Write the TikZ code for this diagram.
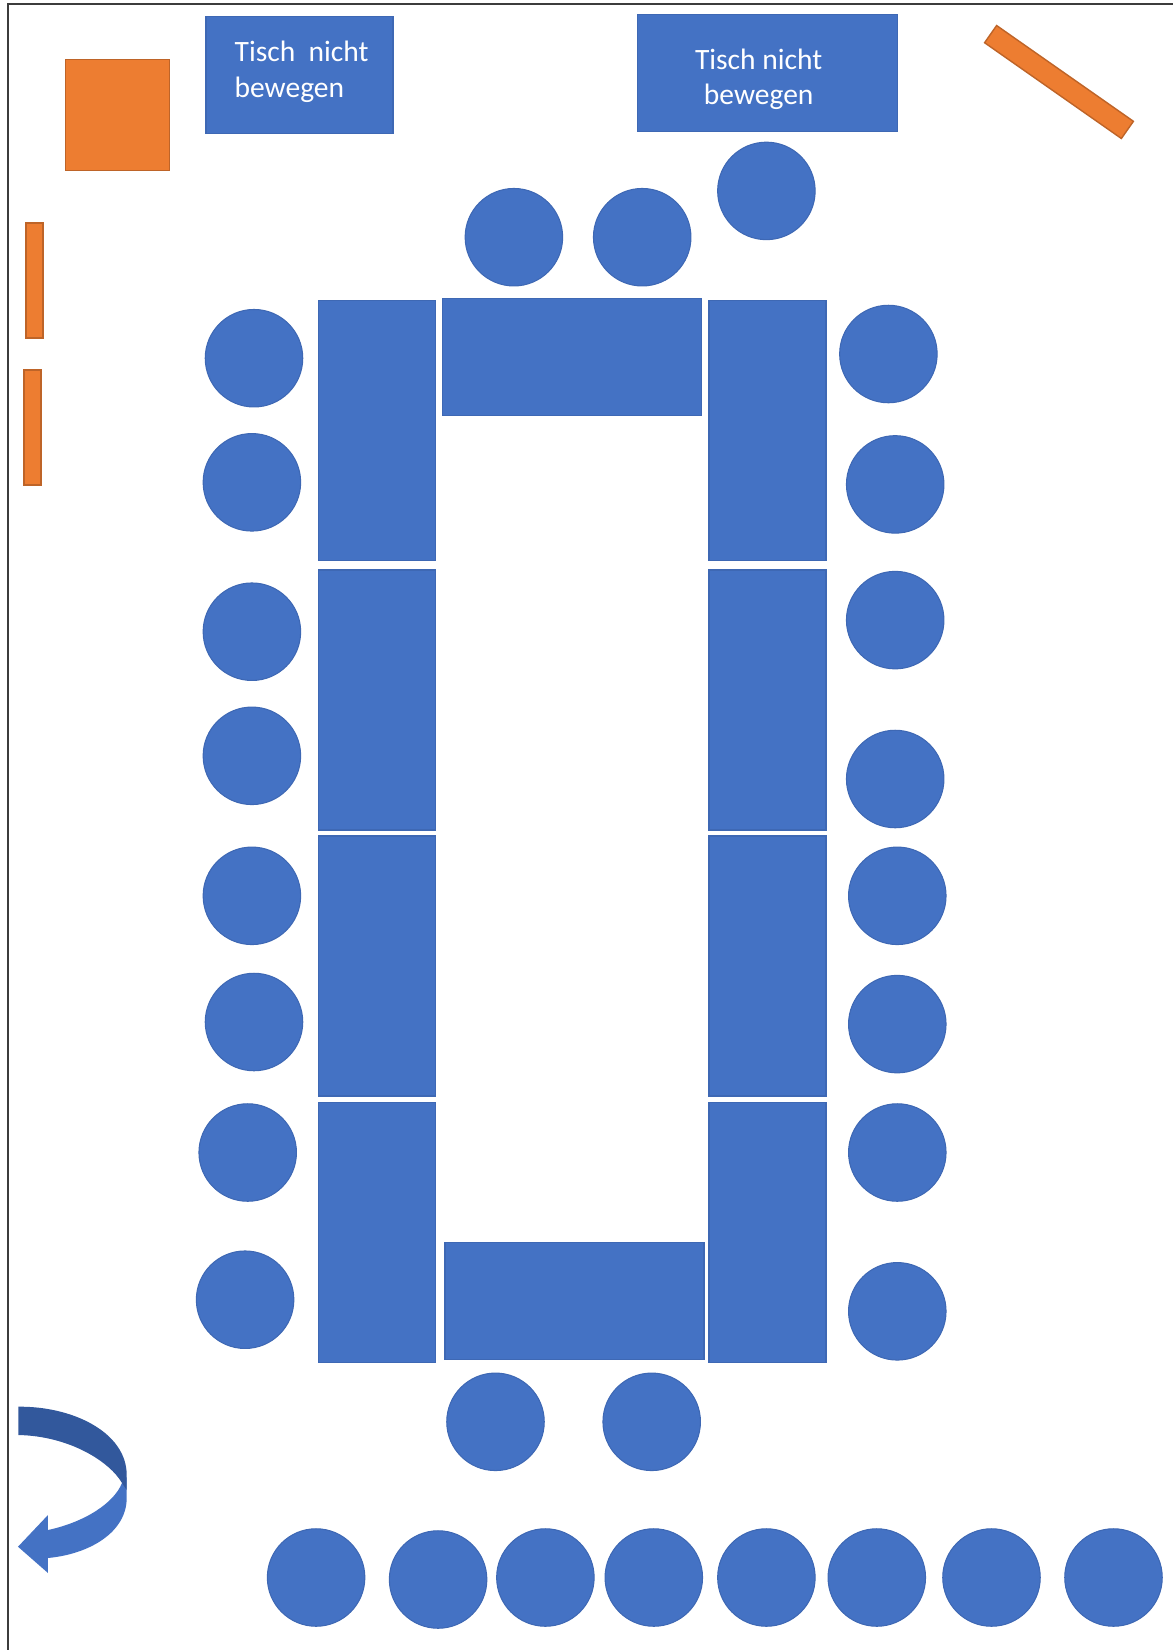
\documentclass[tikz,border=0pt]{standalone}
\usepackage{fontspec}
\setmainfont{Carlito}
\usepackage{xcolor}
\definecolor{tableblue}{RGB}{68,114,196}
\definecolor{tableline}{RGB}{62,104,180}
\definecolor{arrowdark}{RGB}{50,88,156}
\definecolor{softorange}{RGB}{237,125,49}
\definecolor{orangeline}{RGB}{190,100,40}
\definecolor{framegrey}{RGB}{60,60,60}

\begin{document}
\begin{tikzpicture}[
    seat/.style={circle, draw=tableline, fill=tableblue, line width=0.3pt, minimum size=0.975cm, inner sep=0pt},
    longtable/.style={rectangle, draw=tableline, fill=tableblue, line width=0.4pt, minimum width=1.17cm, minimum height=2.6cm, inner sep=0pt},
    crosstable/.style={longtable, minimum width=2.59cm, minimum height=1.17cm},
    fixedtable/.style={longtable, minimum height=1.17cm},
    tablelabel/.style={inner sep=0pt, text=white, font=\fontsize{8.4}{10.2}\selectfont},
    board/.style={rectangle, draw=orangeline, fill=softorange, line width=0.4pt, minimum width=0.17cm, minimum height=1.15cm, inner sep=0pt}
]
    \useasboundingbox (0,0) rectangle (11.73,-16.5);
    \draw[framegrey, line width=0.6pt] (0.08,-16.5) -- (0.08,-0.04) -- (11.73,-0.04);

    \node[board, minimum width=1.04cm, minimum height=1.11cm] (cabinet) at (1.175,-1.15) {};
    \node[board] (boardA) at (0.345,-2.805) {};
    \node[board] (boardB) at (0.325,-4.275) {};
    \node[board, minimum height=1.67cm, minimum width=0.21cm, rotate=55] (boardC) at (10.59,-0.82) {};

    \node[fixedtable, minimum width=1.87cm] (fixedA) at (2.995,-0.75) {};
    \node[tablelabel, align=left] (labelA) at (3.016,-0.718) {Tisch\ \ nicht\\bewegen};
    \node[fixedtable, minimum width=2.6cm] (fixedB) at (7.675,-0.73) {};
    \node[tablelabel, align=center] (labelB) at (7.587,-0.793) {Tisch nicht\\bewegen};

    \node[longtable] (leftA) at (3.771,-4.307) {};
    \node[longtable] (leftB) at (3.771,-7.0) {};
    \node[longtable] (leftC) at (3.771,-9.661) {};
    \node[longtable] (leftD) at (3.771,-12.325) {};
    \node[longtable] (rightA) at (7.675,-4.307) {};
    \node[longtable] (rightB) at (7.675,-7.0) {};
    \node[longtable] (rightC) at (7.675,-9.661) {};
    \node[longtable] (rightD) at (7.675,-12.325) {};
    \node[crosstable] (crossTop) at (5.722,-3.571) {};
    \node[crosstable] (crossBottom) at (5.744,-13.008) {};

    \node[seat] (topA) at (5.139,-2.372) {};
    \node[seat] (topB) at (6.422,-2.372) {};
    \node[seat] (topC) at (7.664,-1.909) {};

    \node[seat] (leftSeatA) at (2.54,-3.582) {};
    \node[seat] (leftSeatB) at (2.519,-4.823) {};
    \node[seat] (leftSeatC) at (2.519,-6.317) {};
    \node[seat] (leftSeatD) at (2.519,-7.558) {};
    \node[seat] (leftSeatE) at (2.519,-8.958) {};
    \node[seat] (leftSeatF) at (2.54,-10.22) {};
    \node[seat] (leftSeatG) at (2.477,-11.525) {};
    \node[seat] (leftSeatH) at (2.451,-12.997) {};

    \node[seat] (rightSeatA) at (8.884,-3.54) {};
    \node[seat] (rightSeatB) at (8.952,-4.844) {};
    \node[seat] (rightSeatC) at (8.952,-6.201) {};
    \node[seat] (rightSeatD) at (8.952,-7.79) {};
    \node[seat] (rightSeatE) at (8.973,-8.958) {};
    \node[seat] (rightSeatF) at (8.973,-10.241) {};
    \node[seat] (rightSeatG) at (8.973,-11.525) {};
    \node[seat] (rightSeatH) at (8.973,-13.113) {};

    \node[seat] (endA) at (4.955,-14.218) {};
    \node[seat] (endB) at (6.517,-14.218) {};

    \node[seat] (rowA) at (3.161,-15.775) {};
    \node[seat] (rowB) at (4.381,-15.795) {};
    \node[seat] (rowC) at (5.454,-15.775) {};
    \node[seat] (rowD) at (6.538,-15.775) {};
    \node[seat] (rowE) at (7.664,-15.775) {};
    \node[seat] (rowF) at (8.768,-15.775) {};
    \node[seat] (rowG) at (9.915,-15.775) {};
    \node[seat] (rowH) at (11.135,-15.775) {};

    \fill[tableblue] (1.22,-14.83) .. controls (1.14,-15.03) and (0.85,-15.22) .. (0.48,-15.30)
        -- (0.48,-15.15) -- (0.18,-15.467) -- (0.48,-15.73) -- (0.48,-15.58)
        .. controls (0.9,-15.54) and (1.267,-15.32) .. (1.267,-14.98) -- (1.267,-14.77) -- cycle;
    \fill[arrowdark] (0.183,-14.067) .. controls (0.72,-14.06) and (1.267,-14.32) .. (1.267,-14.75)
        -- (1.267,-14.9) -- (1.22,-14.83)
        .. controls (1.1,-14.62) and (0.7,-14.36) .. (0.183,-14.35) -- cycle;
\end{tikzpicture}
\end{document}
